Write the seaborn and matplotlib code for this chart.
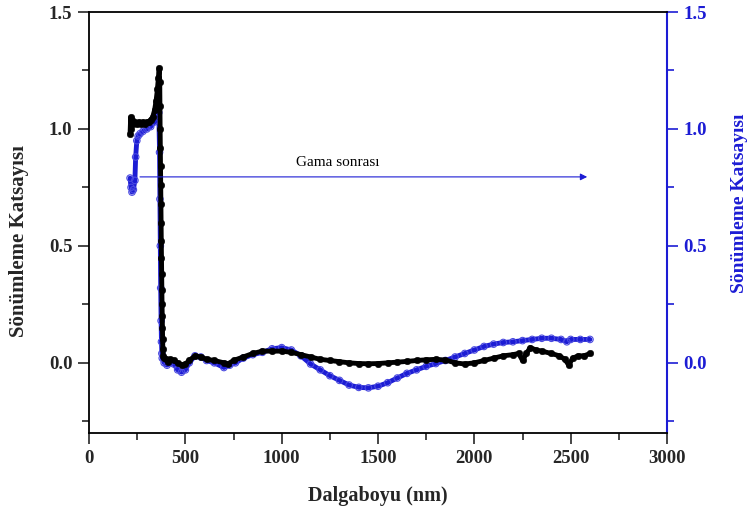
import matplotlib
matplotlib.use("Agg")
import matplotlib.pyplot as plt
import seaborn as sns
import pandas as pd
from matplotlib.ticker import MultipleLocator

# ---- data ----
black_wl = [213, 216, 220, 225, 230, 240, 250, 260, 270, 280, 290, 300, 310, 320, 330, 340, 348, 355, 360, 364,
            367, 368, 369, 370, 371, 372, 373, 374, 375, 376, 377, 378, 379, 380, 381, 382, 383, 385, 390, 400,
            410, 420, 440, 460, 480, 500, 520, 550, 580, 610, 650, 700, 720, 750, 800, 850, 900, 950, 1000, 1050,
            1100, 1150, 1200, 1250, 1300, 1350, 1400, 1450, 1500, 1550, 1600, 1650, 1700, 1750, 1800, 1850, 1900,
            1950, 2000, 2050, 2100, 2150, 2200, 2230, 2250, 2270, 2290, 2320, 2350, 2400, 2440, 2470, 2490, 2510,
            2540, 2570, 2600]
black_val = [0.98, 1.05, 1.00, 1.04, 1.02, 1.03, 1.02, 1.03, 1.02, 1.03, 1.02, 1.03, 1.03, 1.04, 1.05, 1.08, 1.12, 1.17, 1.22, 1.26,
             1.20, 1.10, 1.00, 0.92, 0.84, 0.76, 0.68, 0.60, 0.52, 0.45, 0.38, 0.31, 0.25, 0.20, 0.15, 0.10, 0.06, 0.03, 0.02, 0.015,
             0.005, 0.015, 0.01, 0.0, -0.01, -0.005, 0.01, 0.03, 0.025, 0.015, 0.01, 0.0, -0.005, 0.01, 0.025, 0.04, 0.05, 0.05, 0.05, 0.045,
             0.035, 0.025, 0.015, 0.01, 0.005, 0.0, -0.003, -0.004, -0.003, 0.0, 0.003, 0.006, 0.01, 0.013, 0.015, 0.012, 0.0,
             -0.005, 0.0, 0.01, 0.02, 0.03, 0.035, 0.04, 0.01, 0.04, 0.065, 0.055, 0.05, 0.04, 0.03, 0.015, -0.01, 0.02,
             0.03, 0.03, 0.04]

blue_wl = [213, 218, 223, 230, 238, 242, 248, 255, 265, 280, 300, 320, 340, 355, 362, 366, 368, 370, 372, 374,
           376, 378, 380, 390, 405, 420, 440, 460, 480, 500, 520, 550, 580, 610, 650, 700, 730, 760, 800, 850,
           900, 950, 1000, 1050, 1100, 1150, 1200, 1250, 1300, 1350, 1400, 1450, 1500, 1550, 1600, 1650, 1700, 1750,
           1800, 1850, 1900, 1950, 2000, 2050, 2100, 2150, 2200, 2250, 2300, 2350, 2400, 2450, 2480, 2500, 2550, 2600]
blue_val = [0.79, 0.75, 0.73, 0.74, 0.78, 0.88, 0.95, 0.97, 0.98, 0.99, 1.00, 1.01, 1.03, 1.06, 1.07, 0.90, 0.70, 0.50, 0.32, 0.18,
            0.09, 0.04, 0.02, 0.0, -0.01, 0.0, -0.005, -0.03, -0.04, -0.03, 0.0, 0.03, 0.025, 0.01, 0.0, -0.02, -0.01, 0.0, 0.02, 0.035,
            0.045, 0.06, 0.065, 0.055, 0.03, -0.005, -0.03, -0.055, -0.075, -0.095, -0.105, -0.107, -0.10, -0.085, -0.065, -0.045, -0.03, -0.015,
            -0.003, 0.01, 0.025, 0.04, 0.055, 0.07, 0.08, 0.087, 0.09, 0.095, 0.10, 0.105, 0.105, 0.10, 0.09, 0.10, 0.10, 0.10]

x_label = "Dalgaboyu (nm)"
y_label = "Sönümleme Katsayısı"
note = "Gama sonrası"

df_black = pd.DataFrame({"wl": black_wl, "val": black_val})
df_blue = pd.DataFrame({"wl": blue_wl, "val": blue_val})

sns.set_style("ticks")
plt.rcParams["font.family"] = ["Liberation Serif", "DejaVu Serif"]
plt.rcParams["font.weight"] = "bold"

BLUE = "#1c1cd4"

fig = plt.figure(figsize=(7.52, 5.18), dpi=100)
ax = fig.add_axes([0.1184, 0.1641, 0.7686, 0.8127])
ax2 = ax.twinx()

sns.lineplot(data=df_black, x="wl", y="val", ax=ax, color="black", lw=3.5, sort=False, zorder=3)
sns.scatterplot(data=df_black, x="wl", y="val", ax=ax, color="black", s=22, marker="o", edgecolor="black", zorder=4)

sns.lineplot(data=df_blue, x="wl", y="val", ax=ax2, color=BLUE, lw=3.5, sort=False, zorder=2)
sns.scatterplot(data=df_blue, x="wl", y="val", ax=ax2, s=22, marker="o", facecolor="none", edgecolor="#4a4ae0", linewidth=0.8, zorder=2)

ax.set_zorder(ax2.get_zorder() + 1)
ax.patch.set_visible(False)

for a in (ax, ax2):
    a.set_xlim(0, 3000)
    a.set_ylim(-0.30, 1.5)
    a.yaxis.set_major_locator(MultipleLocator(0.5))
    a.yaxis.set_minor_locator(MultipleLocator(0.25))
ax.xaxis.set_major_locator(MultipleLocator(500))
ax.xaxis.set_minor_locator(MultipleLocator(250))

ax.set_xlabel(x_label, fontsize=14.5, fontweight="bold", labelpad=14)
ax.set_ylabel(y_label, fontsize=15, fontweight="bold")
ax2.set_ylabel(y_label, fontsize=14, fontweight="bold", color=BLUE)
ax.yaxis.set_label_coords(-0.104, 0.455)
ax2.yaxis.set_label_coords(1.111, 0.545)

ax.tick_params(axis="both", which="major", direction="out", length=8, width=1.2, labelsize=13.5, pad=4)
ax.tick_params(axis="both", which="minor", direction="out", length=5, width=1.2)
ax2.tick_params(axis="y", which="major", direction="out", length=8, width=1.2, labelsize=13.5, colors=BLUE, pad=4)
ax2.tick_params(axis="y", which="minor", direction="out", length=5, width=1.2, colors=BLUE)
for lab in ax.get_xticklabels() + ax.get_yticklabels() + ax2.get_yticklabels():
    lab.set_fontweight("bold")

for s in ["left", "bottom", "top"]:
    ax.spines[s].set_visible(True)
    ax.spines[s].set_linewidth(1.3)
    ax.spines[s].set_color("black")
ax.spines["right"].set_visible(False)
for s in ["left", "bottom", "top"]:
    ax2.spines[s].set_visible(False)
ax2.spines["right"].set_visible(True)
ax2.spines["right"].set_color(BLUE)
ax2.spines["right"].set_linewidth(1.5)

ax.annotate("", xy=(2600, 0.795), xytext=(250, 0.795),
            arrowprops=dict(arrowstyle="-|>", color=BLUE, lw=0.8, mutation_scale=10), zorder=5)
ax.text(1290, 0.83, note, fontsize=11, fontweight="normal", ha="center", va="bottom", color="black")

fig.savefig("out.png", dpi=100)
